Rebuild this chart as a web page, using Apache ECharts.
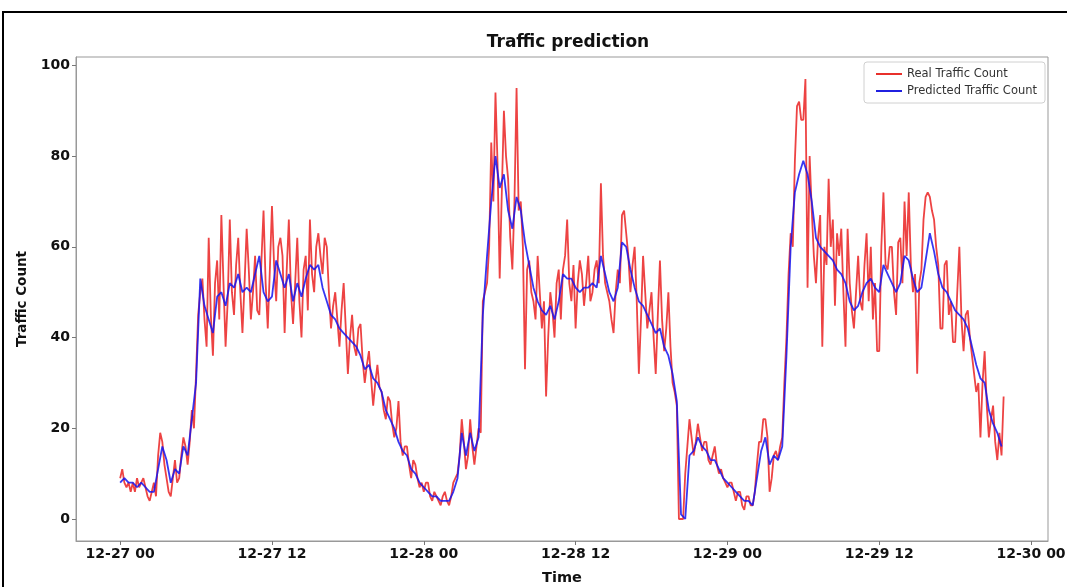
<!DOCTYPE html>
<html>
<head>
<meta charset="utf-8">
<script src="https://cdn.jsdelivr.net/npm/echarts@6/dist/echarts.min.js"></script>
<style>
  html, body { margin: 0; padding: 0; background: #fff; }
  #chart { width: 1067px; height: 587px; }
</style>
</head>
<body>
<div id="chart"></div>
<script>
// real counts every 10 minutes, predictions every 20 minutes, both from 12-27 00:00
const realStepMinutes = 10;
const predictedStepMinutes = 20;
const startDay = 27;

const realCounts = [
  9, 11, 8, 7, 8, 6,      8, 6, 9, 7, 8, 9,       7, 5, 4, 6, 8, 5,
  14, 19, 17, 12, 9, 6,   5, 9, 13, 8, 9, 14,     18, 16, 12, 17, 24, 20,
  32, 45, 50, 53, 44, 38, 62, 45, 36, 52, 57, 44, 67, 52, 38, 48, 66, 50,
  45, 56, 62, 50, 41, 52, 64, 55, 44, 50, 58, 46, 45, 57, 68, 52, 42, 55,
  69, 56, 48, 60, 62, 58, 41, 55, 66, 50, 43, 52, 62, 48, 40, 55, 58, 46,
  66, 54, 50, 60, 63, 58, 54, 62, 60, 50, 42, 47, 50, 44, 38, 46, 52, 42,
  32, 40, 45, 38, 36, 42, 43, 35, 30, 34, 37, 31, 25, 30, 34, 29, 28, 24,
  22, 27, 26, 21, 18, 20, 26, 17, 14, 16, 16, 12, 9, 13, 12, 9, 7, 8,
  6, 8, 8, 5, 4, 6,       5, 4, 3, 5, 6, 4,       3, 5, 8, 9, 10, 14,
  22, 17, 11, 14, 22, 16, 12, 16, 20, 19, 48, 50, 52, 60, 83, 70, 94, 78,
  53, 72, 90, 80, 75, 62, 55, 70, 95, 68, 70, 60, 33, 55, 57, 50, 48, 44,
  58, 50, 42, 48, 27, 40, 50, 46, 40, 52, 55, 44, 55, 58, 66, 52, 48, 56,
  42, 52, 57, 54, 47, 52, 58, 48, 50, 55, 57, 52, 74, 58, 52, 50, 48, 44,
  41, 50, 55, 52, 67, 68, 63, 58, 50, 56, 60, 48, 32, 44, 58, 50, 42, 46,
  50, 40, 32, 45, 57, 44, 37, 42, 50, 38, 30, 28, 25, 0, 0, 0, 10, 16,
  22, 18, 14, 17, 21, 18, 15, 17, 17, 13, 12, 14, 16, 12, 10, 11, 9, 8,
  7, 8, 8, 6, 4, 6,       6, 3, 2, 5, 5, 3,       3, 6, 12, 17, 17, 22,
  22, 18, 6, 9, 14, 15,   13, 16, 18, 30, 40, 54, 63, 60, 79, 91, 92, 88,
  88, 97, 51, 80, 68, 58, 52, 62, 67, 38, 60, 56, 75, 60, 66, 47, 63, 58,
  64, 50, 38, 64, 52, 46, 42, 50, 58, 48, 46, 56, 63, 48, 60, 44, 52, 37,
  37, 60, 72, 56, 55, 60, 60, 50, 45, 61, 62, 52, 70, 58, 72, 56, 50, 54,
  32, 52, 55, 66, 71, 72, 71, 68, 66, 60, 56, 42, 42, 56, 57, 45, 48, 39,
  39, 50, 60, 44, 37, 45, 46, 40, 36, 32, 28, 30, 18, 30, 37, 25, 18, 22,
  25, 17, 13, 19, 14, 27
];

const predictedCounts = [
  8, 9, 8,   8, 7, 8,   7, 6, 6,   11, 16, 13,  8, 11, 10,
  16, 14, 22,  30, 53, 47,  44, 41, 49,  50, 47, 52,  51, 54, 50,
  51, 50, 54,  58, 50, 48,  49, 57, 54,  51, 54, 48,  52, 49, 53,
  56, 55, 56,  51, 48, 45,  44, 42, 41,  40, 39, 38,  36, 33, 34,
  31, 30, 28,  24, 22, 20,  17, 15, 14,  11, 10, 8,   7, 6, 5,
  5, 4, 4,   4, 6, 9,   19, 14, 19,  15, 18, 45,  58, 70, 80,
  73, 76, 68,  64, 71, 68,  61, 56, 51,  48, 46, 45,  47, 44, 48,
  54, 53, 53,  51, 50, 51,  51, 52, 51,  58, 54, 50,  48, 51, 61,
  60, 55, 51,  48, 47, 45,  43, 41, 42,  38, 36, 32,  26, 1, 0,
  14, 15, 18,  16, 15, 13,  13, 11, 9,   8, 7, 6,   5, 4, 4,
  3, 9, 15,  18, 12, 14,  13, 16, 36,  60, 72, 76,  79, 76, 70,
  62, 60, 59,  58, 57, 55,  54, 52, 48,  46, 47, 50,  52, 53, 51,
  50, 56, 54,  52, 50, 52,  58, 57, 53,  50, 51, 57,  63, 59, 54,
  51, 50, 48,  46, 45, 44,  42, 38, 34,  31, 30, 24,  21, 19, 16
];

const xTickHours = [0, 12, 24, 36, 48, 60, 72];
const yTicks = [0, 20, 40, 60, 80, 100];

function toPoints(values, stepMinutes) {
  return values.map((v, i) => [i * stepMinutes / 60, v]);
}

function hourLabel(h) {
  const day = startDay + Math.floor(h / 24);
  const hr = Math.round(h % 24);
  return '12-' + day + ' ' + (hr < 10 ? '0' + hr : hr);
}

const font = '"DejaVu Sans", sans-serif';
const chart = echarts.init(document.getElementById('chart'));

chart.setOption({
  animation: false,
  backgroundColor: '#fff',
  title: {
    text: 'Traffic prediction',
    left: 563,
    top: 29,
    textAlign: 'center',
    textStyle: { fontFamily: font, fontSize: 17, fontWeight: 'bold', color: '#111' }
  },
  legend: {
    data: ['Real Traffic Count', 'Predicted Traffic Count'],
    orient: 'vertical',
    right: 22,
    top: 62,
    itemWidth: 26,
    itemHeight: 2,
    itemGap: 5,
    icon: 'rect',
    padding: [6, 8, 6, 12],
    borderColor: '#d0d0d0',
    borderWidth: 1,
    borderRadius: 3,
    textStyle: { fontFamily: font, fontSize: 11.5, color: '#333' }
  },
  grid: {
    left: 76, right: 19, top: 57, bottom: 46,
    containLabel: false,
    outerBoundsMode: 'none'
  },
  xAxis: {
    type: 'value',
    min: -3.49,
    max: 73.34,
    name: 'Time',
    nameLocation: 'middle',
    nameGap: 30,
    nameTextStyle: { fontFamily: font, fontSize: 14.5, fontWeight: 'bold', color: '#111' },
    axisLine: { show: true, onZero: false, lineStyle: { color: '#999', width: 1 } },
    axisTick: { show: true, length: 4, customValues: xTickHours, lineStyle: { color: '#777' } },
    axisLabel: {
      customValues: xTickHours,
      formatter: hourLabel,
      fontFamily: font, fontSize: 14, fontWeight: 'bold', color: '#111', margin: 6
    },
    splitLine: { show: false }
  },
  yAxis: {
    type: 'value',
    min: -4.85,
    max: 101.85,
    name: 'Traffic Count',
    nameLocation: 'middle',
    nameGap: 37,
    nameTextStyle: { fontFamily: font, fontSize: 13.5, fontWeight: 'bold', color: '#111' },
    axisLine: { show: true, onZero: false, lineStyle: { color: '#999', width: 1 } },
    axisTick: { show: true, length: 4, customValues: yTicks, lineStyle: { color: '#777' } },
    axisLabel: {
      customValues: yTicks,
      fontFamily: font, fontSize: 14, fontWeight: 'bold', color: '#111', margin: 6
    },
    splitLine: { show: false }
  },
  graphic: [
    {
      type: 'rect',
      shape: { x: 76, y: 57, width: 972, height: 484 },
      style: { fill: 'none', stroke: '#999', lineWidth: 1 },
      silent: true
    },
    {
      type: 'rect',
      shape: { x: 3, y: 12, width: 1100, height: 620 },
      style: { fill: 'none', stroke: '#000', lineWidth: 2 },
      silent: true
    }
  ],
  series: [
    {
      name: 'Real Traffic Count',
      type: 'line',
      data: toPoints(realCounts, realStepMinutes),
      symbol: 'none',
      color: '#e8302b',
      lineStyle: { width: 1.8, color: 'rgba(232, 20, 20, 0.8)' }
    },
    {
      name: 'Predicted Traffic Count',
      type: 'line',
      data: toPoints(predictedCounts, predictedStepMinutes),
      symbol: 'none',
      color: '#2020e0',
      lineStyle: { width: 1.8, color: 'rgba(20, 20, 240, 0.85)' }
    }
  ]
});
</script>
</body>
</html>
